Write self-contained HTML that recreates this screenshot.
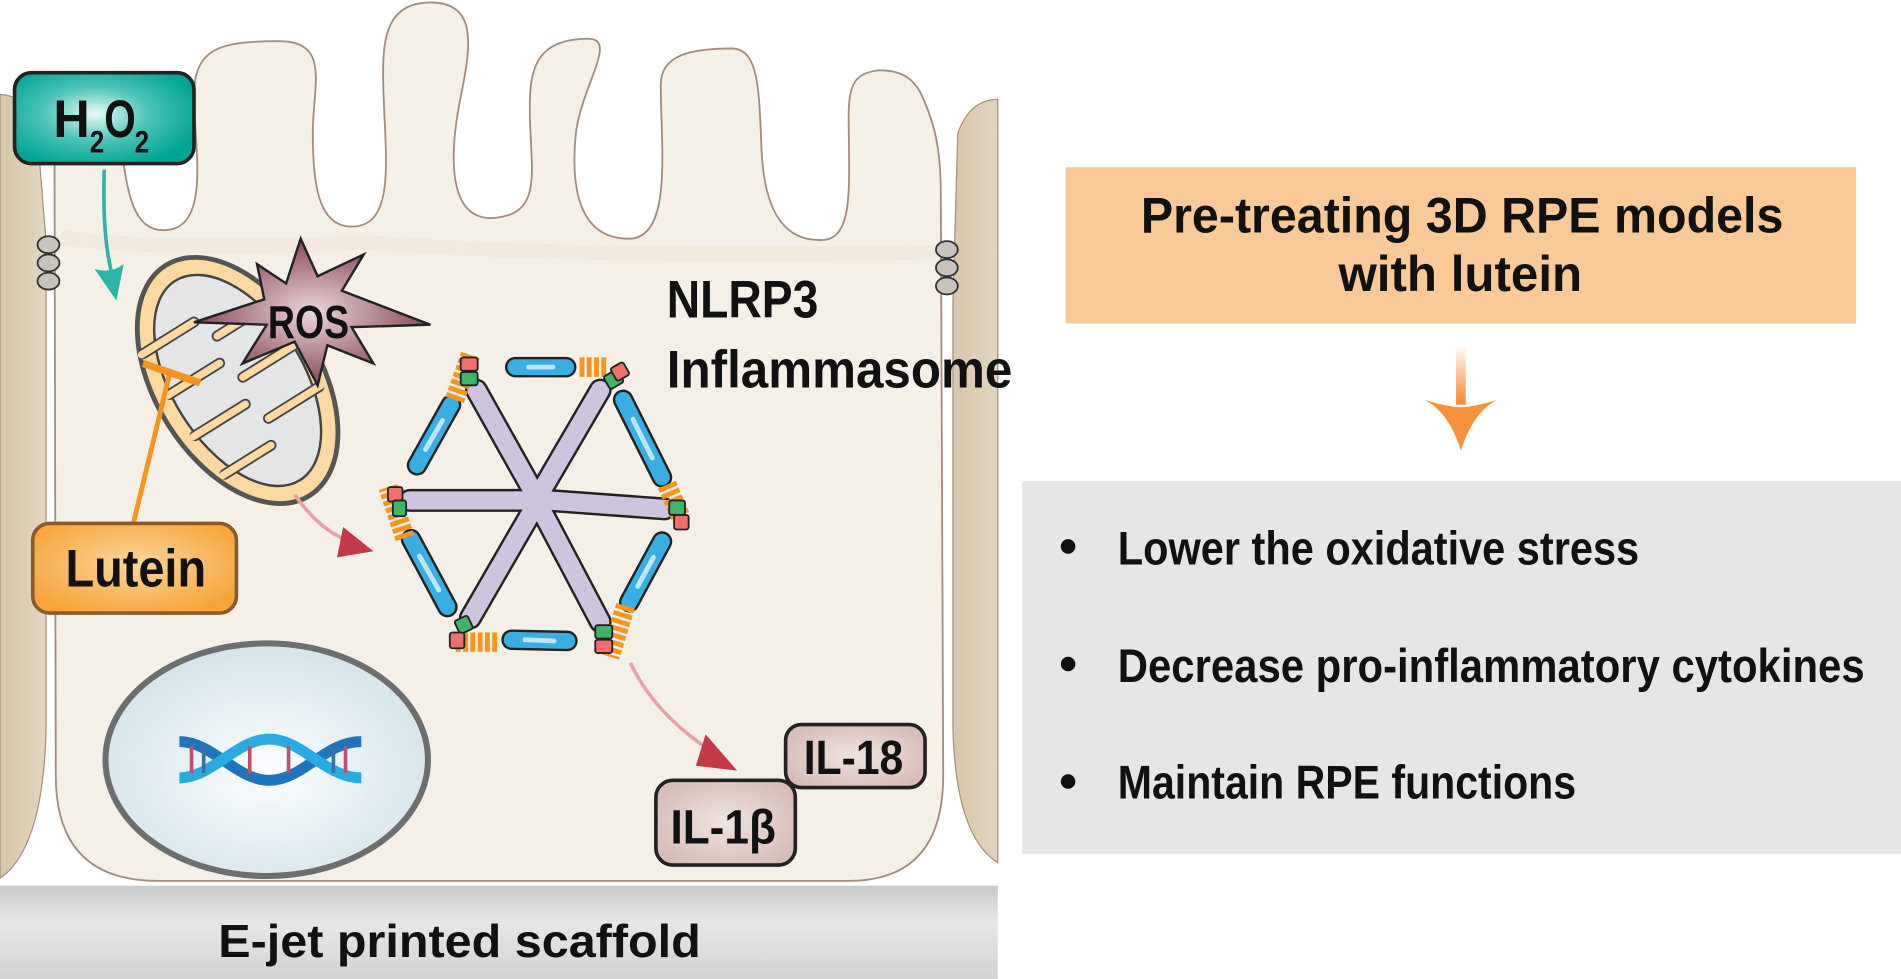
<!DOCTYPE html>
<html><head><meta charset="utf-8"><style>
html,body{margin:0;padding:0;background:#fff;width:1901px;height:979px;overflow:hidden}
svg{display:block}
text{font-family:"Liberation Sans",sans-serif;font-weight:bold;fill:#111}
</style></head><body>
<svg width="1901" height="979" viewBox="0 0 1568 808" preserveAspectRatio="none" xmlns="http://www.w3.org/2000/svg">
<defs>
<radialGradient id="teal" cx="45%" cy="45%" r="60%"><stop offset="0" stop-color="#e8fbf8"/><stop offset="0.5" stop-color="#4cc2b6"/><stop offset="1" stop-color="#00a595"/></radialGradient>
<radialGradient id="orng" cx="50%" cy="45%" r="60%"><stop offset="0" stop-color="#fcd79a"/><stop offset="1" stop-color="#f6a43a"/></radialGradient>
<radialGradient id="ros" cx="50%" cy="50%" r="55%"><stop offset="0" stop-color="#ead8dc"/><stop offset="1" stop-color="#80394a"/></radialGradient>
<radialGradient id="nuc" cx="50%" cy="55%" r="55%"><stop offset="0" stop-color="#fbfdfe"/><stop offset="1" stop-color="#d5e4ea"/></radialGradient>
<radialGradient id="il" cx="50%" cy="50%" r="60%"><stop offset="0" stop-color="#efe3e0"/><stop offset="1" stop-color="#d6bcb6"/></radialGradient>
<linearGradient id="scaf" x1="0" y1="0" x2="0" y2="1"><stop offset="0" stop-color="#c9cacb"/><stop offset="0.4" stop-color="#e6e7e8"/><stop offset="1" stop-color="#d2d3d4"/></linearGradient>
<linearGradient id="oarr" x1="0" y1="0" x2="0" y2="1"><stop offset="0" stop-color="#fff"/><stop offset="1" stop-color="#f7882f"/></linearGradient>
<linearGradient id="nb" x1="0" y1="0" x2="1" y2="0"><stop offset="0" stop-color="#d8c6aa"/><stop offset="1" stop-color="#e3d5bf"/></linearGradient>
</defs>

<path d="M0 78 Q18 78 30 100 L38 200 L38 600 Q36 700 0 725 Z" fill="url(#nb)" stroke="#a88f7a" stroke-width="1"/>
<path d="M823 82 Q800 82 790 110 L786 250 L786 600 Q788 690 823 712 Z" fill="url(#nb)" stroke="#a88f7a" stroke-width="1"/>

<path d="M45 150 L46 640 Q46 727 130 727 L700 727 Q778 727 778 640 L776 160
C776 120 770 100 760 78 C752 62 740 58 725 58 C705 60 700 70 700 95 C700 150 705 195 680 198 C650 200 630 180 628 120 C626 70 625 42 605 40 C570 40 545 45 545 70 C545 120 555 195 520 197 C480 198 470 160 475 110 C480 70 510 32 485 32 C440 32 437 60 437 90 C437 140 450 178 405 180 C370 180 370 130 380 80 C388 40 395 2 355 2 C320 2 316 30 316 60 C316 120 330 187 290 187 C262 187 258 150 258 110 C258 70 273 34 230 34 C180 34 160 40 160 80 C160 120 175 190 135 190 C110 190 105 160 100 120 L45 120 Z"
 fill="#f4f0e8" stroke="#a48c7c" stroke-width="1.5"/>
<path d="M50 196 Q140 208 300 200 Q500 214 772 208" fill="none" stroke="#ece4d6" stroke-width="12" opacity="0.5"/>

<g fill="#c8c3bd" stroke="#333" stroke-width="1.5">
<ellipse cx="40" cy="202" rx="9" ry="7"/><ellipse cx="40" cy="217" rx="9" ry="7"/><ellipse cx="40" cy="232" rx="9" ry="7"/>
<ellipse cx="781" cy="206" rx="9" ry="7"/><ellipse cx="781" cy="221" rx="9" ry="7"/><ellipse cx="781" cy="236" rx="9" ry="7"/>
</g>

<rect x="0" y="731" width="823" height="77" fill="url(#scaf)"/>
<text x="180" y="790" font-size="38" textLength="398" lengthAdjust="spacingAndGlyphs">E-jet printed scaffold</text>

<rect x="12" y="60" width="148" height="75" rx="14" fill="url(#teal)" stroke="#222" stroke-width="3"/>
<text x="44" y="113" font-size="44" textLength="30" lengthAdjust="spacingAndGlyphs">H</text>
<text x="74" y="126" font-size="26" textLength="12" lengthAdjust="spacingAndGlyphs">2</text>
<text x="86" y="113" font-size="44" textLength="26" lengthAdjust="spacingAndGlyphs">O</text>
<text x="111" y="126" font-size="26" textLength="12" lengthAdjust="spacingAndGlyphs">2</text>
<path d="M86 140 Q84 200 94 232" fill="none" stroke="#2bb5a7" stroke-width="3"/>
<path d="M78 222 L96 248 L102 218 Q92 226 78 222 Z" fill="#2bb5a7"/>

<g transform="translate(196,314) rotate(-32)">
<ellipse rx="68" ry="112" fill="#fbd9a0" stroke="#555" stroke-width="4"/>
<ellipse rx="54" ry="97" fill="#e4e5e7" stroke="#444" stroke-width="2"/>
<g fill="none" stroke-linecap="round">
<g stroke="#444" stroke-width="9">
<path d="M-54 -60 L-5 -60"/><path d="M54 -40 L5 -40"/><path d="M-54 -20 L-5 -20"/><path d="M54 0 L5 0"/><path d="M-54 20 L-5 20"/><path d="M54 40 L5 40"/><path d="M-50 60 L-5 60"/>
</g>
<g stroke="#fbd9a0" stroke-width="6">
<path d="M-56 -60 L-5 -60"/><path d="M56 -40 L5 -40"/><path d="M-56 -20 L-5 -20"/><path d="M56 0 L5 0"/><path d="M-56 20 L-5 20"/><path d="M56 40 L5 40"/><path d="M-52 60 L-5 60"/>
</g>
</g>
</g>
<polygon points="212,218 236,234 248,197 262,228 300,210 282,240 355,268 290,270 308,300 270,285 262,318 243,282 200,300 220,268 160,266 218,247" fill="url(#ros)" stroke="#222" stroke-width="2"/>
<text x="221" y="279" font-size="38" textLength="67" lengthAdjust="spacingAndGlyphs">ROS</text>

<line x1="110" y1="432" x2="140" y2="308" stroke="#f7941d" stroke-width="4"/>
<line x1="118" y1="300" x2="165" y2="316" stroke="#f7941d" stroke-width="6"/>
<rect x="27" y="432" width="168" height="74" rx="14" fill="url(#orng)" stroke="#8a5a2a" stroke-width="3"/>
<text x="54" y="484" font-size="44" textLength="116" lengthAdjust="spacingAndGlyphs">Lutein</text>

<path d="M243 408 Q265 440 292 448" fill="none" stroke="#e8a0aa" stroke-width="3"/>
<path d="M283 435 L308 455 L278 460 Z" fill="#c43848"/>
<path d="M520 547 Q540 590 590 622" fill="none" stroke="#e8a0aa" stroke-width="3"/>
<path d="M582 606 L608 636 L574 632 Z" fill="#c43848"/>

<g stroke-linecap="round">
<g stroke="#222" stroke-width="19">
<line x1="440" y1="406" x2="393" y2="322"/><line x1="446" y1="406" x2="495" y2="322"/>
<line x1="452" y1="413" x2="548" y2="420"/><line x1="446" y1="420" x2="495" y2="513"/>
<line x1="440" y1="420" x2="388" y2="510"/><line x1="434" y1="413" x2="338" y2="413"/>
</g>
<g stroke="#cfc4de" stroke-width="15">
<line x1="440" y1="406" x2="393" y2="322"/><line x1="446" y1="406" x2="495" y2="322"/>
<line x1="452" y1="413" x2="548" y2="420"/><line x1="446" y1="420" x2="495" y2="513"/>
<line x1="440" y1="420" x2="388" y2="510"/><line x1="434" y1="413" x2="338" y2="413"/>
</g>
<g stroke="#222" stroke-width="17">
<line x1="425" y1="303" x2="467" y2="303"/><line x1="514" y1="330" x2="546" y2="394"/>
<line x1="546" y1="447" x2="519" y2="497"/><line x1="468" y1="529" x2="422" y2="528"/>
<line x1="369" y1="501" x2="339" y2="445"/><line x1="344" y1="384" x2="372" y2="334"/>
</g>
<g stroke="#38aee3" stroke-width="13">
<line x1="425" y1="303" x2="467" y2="303"/><line x1="514" y1="330" x2="546" y2="394"/>
<line x1="546" y1="447" x2="519" y2="497"/><line x1="468" y1="529" x2="422" y2="528"/>
<line x1="369" y1="501" x2="339" y2="445"/><line x1="344" y1="384" x2="372" y2="334"/>
</g>
<g stroke="#bfe6f8" stroke-width="4">
<line x1="436" y1="303" x2="456" y2="303"/><line x1="522" y1="346" x2="538" y2="378"/>
<line x1="539" y1="460" x2="526" y2="484"/><line x1="457" y1="529" x2="433" y2="528"/>
<line x1="362" y1="487" x2="346" y2="459"/><line x1="351" y1="371" x2="365" y2="347"/>
</g>
</g>
<g stroke="#f7941d" stroke-width="16" stroke-dasharray="4 2" fill="none">
<line x1="478" y1="303" x2="502" y2="303"/><line x1="550" y1="400" x2="562" y2="428"/>
<line x1="516" y1="500" x2="503" y2="542"/><line x1="410" y1="530" x2="374" y2="530"/>
<line x1="334" y1="444" x2="320" y2="402"/><line x1="375" y1="330" x2="388" y2="293"/>
</g>
<g stroke="#222" stroke-width="1.5">
<rect x="380" y="295" width="14" height="11" rx="2" fill="#ef6f6f"/><rect x="380" y="307" width="14" height="11" rx="2" fill="#3fb36a"/>
<rect x="499" y="307" width="13" height="12" rx="2" fill="#3fb36a" transform="rotate(-30 506 312)"/><rect x="506" y="301" width="12" height="12" rx="2" fill="#ef6f6f" transform="rotate(-30 511 308)"/>
<rect x="552" y="413" width="13" height="12" rx="2" fill="#3fb36a"/><rect x="556" y="425" width="12" height="12" rx="2" fill="#ef6f6f"/>
<rect x="491" y="516" width="14" height="11" rx="2" fill="#3fb36a"/><rect x="491" y="528" width="14" height="11" rx="2" fill="#ef6f6f"/>
<rect x="377" y="510" width="12" height="12" rx="2" fill="#3fb36a" transform="rotate(-25 382 517)"/><rect x="371" y="522" width="12" height="13" rx="2" fill="#ef6f6f"/>
<rect x="320" y="402" width="12" height="12" rx="2" fill="#ef6f6f"/><rect x="324" y="413" width="11" height="13" rx="2" fill="#3fb36a"/>
</g>
<text x="550" y="262" font-size="44" textLength="125" lengthAdjust="spacingAndGlyphs">NLRP3</text>
<text x="550" y="320" font-size="44" textLength="285" lengthAdjust="spacingAndGlyphs">Inflammasome</text>

<ellipse cx="220" cy="627" rx="133" ry="96" fill="url(#nuc)" stroke="#6d6e70" stroke-width="5"/>
<g fill="none" stroke-width="9">
<path d="M148 612 C175 612 195 644 222 644 C250 644 268 612 298 612" stroke="#1f75bc"/>
<path d="M148 642 C175 642 195 610 222 610 C250 610 268 642 298 642" stroke="#29abe2"/>
</g>
<g stroke-width="3">
<line x1="158" y1="616" x2="158" y2="638" stroke="#c0506a"/><line x1="168" y1="616" x2="168" y2="638" stroke="#3a6ea8"/>
<line x1="206" y1="616" x2="206" y2="638" stroke="#c0506a"/><line x1="238" y1="616" x2="238" y2="638" stroke="#c0506a"/>
<line x1="275" y1="616" x2="275" y2="638" stroke="#3a6ea8"/><line x1="285" y1="616" x2="285" y2="638" stroke="#c0506a"/>
</g>

<rect x="648" y="598" width="115" height="52" rx="13" fill="url(#il)" stroke="#222" stroke-width="3"/>
<text x="663" y="639" font-size="40" textLength="82" lengthAdjust="spacingAndGlyphs">IL-18</text>
<rect x="541" y="644" width="115" height="70" rx="14" fill="url(#il)" stroke="#222" stroke-width="3"/>
<text x="553" y="696" font-size="40" textLength="87" lengthAdjust="spacingAndGlyphs">IL-1β</text>

<rect x="879" y="138" width="652" height="129" fill="#f9c997"/>
<text x="941" y="192" font-size="41" textLength="530" lengthAdjust="spacingAndGlyphs">Pre-treating 3D RPE models</text>
<text x="1104" y="240" font-size="41" textLength="201" lengthAdjust="spacingAndGlyphs">with lutein</text>
<rect x="1201" y="284" width="8" height="50" fill="url(#oarr)"/>
<path d="M1175 330 Q1195 340 1205 372 Q1215 340 1235 330 Q1215 336 1205 336 Q1195 336 1175 330 Z" fill="#f8923a"/>
<rect x="843" y="397" width="725" height="308" fill="#e6e6e6"/>
<circle cx="881" cy="451" r="6" fill="#111"/><circle cx="881" cy="548" r="6" fill="#111"/><circle cx="881" cy="645" r="6" fill="#111"/>
<text x="922" y="466" font-size="39" textLength="430" lengthAdjust="spacingAndGlyphs">Lower the oxidative stress</text>
<text x="922" y="563" font-size="39" textLength="616" lengthAdjust="spacingAndGlyphs">Decrease pro-inflammatory cytokines</text>
<text x="922" y="659" font-size="39" textLength="378" lengthAdjust="spacingAndGlyphs">Maintain RPE functions</text>
</svg>
</body></html>
